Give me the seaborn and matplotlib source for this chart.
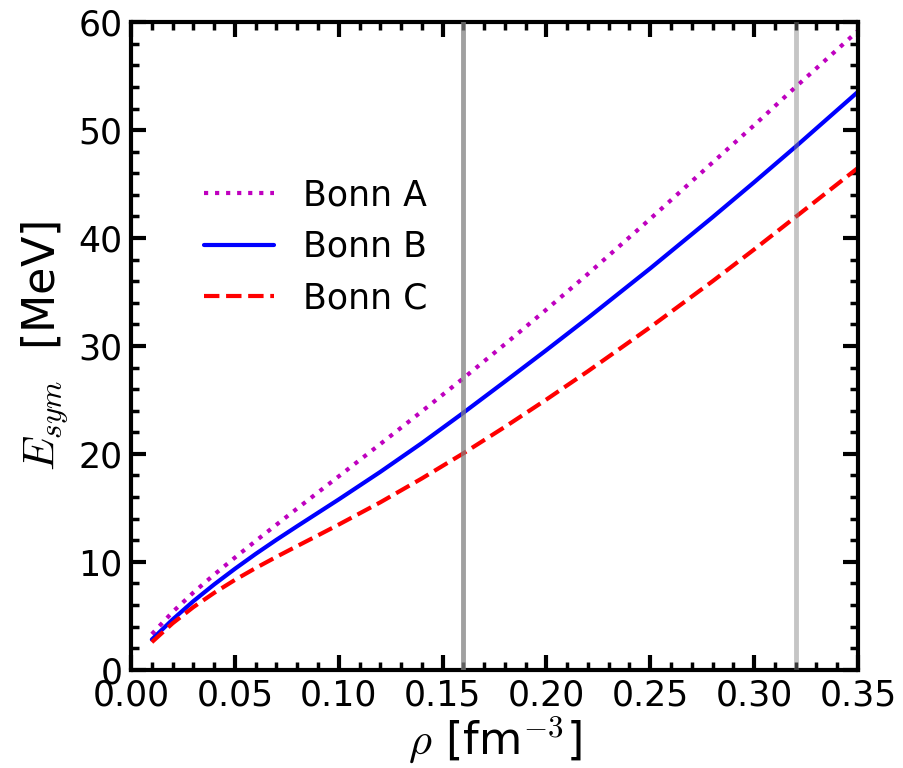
"""
Symmetry energy vs density for the Bonn A/B/C potentials.
"""

import matplotlib
matplotlib.use('Agg')
import matplotlib.pyplot as plt
import pandas as pd
import seaborn as sns
from matplotlib.ticker import MultipleLocator


# densities [fm^-3]
RHO = [0.01, 0.02, 0.03, 0.04, 0.05, 0.06, 0.07, 0.08, 0.09, 0.10, 0.12,
       0.14, 0.16, 0.18, 0.20, 0.22, 0.25, 0.28, 0.30, 0.32, 0.35]

# E_sym [MeV]
ESYM_BONN_A = [3.3, 5.35, 7.15, 8.81, 10.39, 11.93, 13.44, 14.94, 16.43, 17.92,
               20.91, 23.94, 27.01, 30.16, 33.38, 36.68, 41.78, 47.0, 50.45,
               54.0, 59.2]
ESYM_BONN_B = [2.8, 4.65, 6.35, 7.9, 9.35, 10.73, 12.04, 13.3, 14.54, 15.78,
               18.33, 21.0, 23.81, 26.7, 29.62, 32.6, 37.19, 41.93, 45.17,
               48.47, 53.55]
ESYM_BONN_C = [2.55, 4.3, 5.8, 7.12, 8.32, 9.42, 10.46, 11.46, 12.45, 13.45,
               15.51, 17.72, 20.05, 22.5, 25.04, 27.66, 31.74, 36.0, 38.94,
               41.96, 46.5]

SERIES = ['Bonn A', 'Bonn B', 'Bonn C']
COLORS = {'Bonn A': 'm', 'Bonn B': 'b', 'Bonn C': 'r'}
STYLES = {'Bonn A': ':', 'Bonn B': '-', 'Bonn C': '--'}

# saturation density and twice saturation
VLINES = [0.16, 0.32]
VLINE_ALPHA = [0.75, 0.45]


def build_frame():
    frames = []
    for name, vals in zip(SERIES, [ESYM_BONN_A, ESYM_BONN_B, ESYM_BONN_C]):
        frames.append(pd.DataFrame({'rho': RHO, 'esym': vals, 'model': name}))
    return pd.concat(frames, ignore_index=True)


def main():
    sns.set_style('white')
    plt.rcParams['font.family'] = ['DejaVu Sans']
    plt.rcParams['mathtext.fontset'] = 'cm'
    for key in ['text.color', 'axes.labelcolor', 'xtick.color', 'ytick.color']:
        plt.rcParams[key] = 'black'

    df = build_frame()

    fig = plt.figure(figsize=(9.04, 7.68), dpi=100)
    ax = fig.add_axes([0.145, 0.128, 0.804, 0.843])

    for name in SERIES:
        sub = df[df['model'] == name]
        sns.lineplot(
            data=sub, x='rho', y='esym', ax=ax, label=name,
            color=COLORS[name], linestyle=STYLES[name], linewidth=3,
        )

    for xv, a in zip(VLINES, VLINE_ALPHA):
        ax.axvline(xv, color='gray', alpha=a, linewidth=3.5, zorder=5)

    ax.set_xlim(0, 0.35)
    ax.set_ylim(0, 60)
    ax.xaxis.set_major_locator(MultipleLocator(0.05))
    ax.xaxis.set_minor_locator(MultipleLocator(0.01))
    ax.yaxis.set_major_locator(MultipleLocator(10))
    ax.yaxis.set_minor_locator(MultipleLocator(2))
    ax.xaxis.set_major_formatter(plt.FormatStrFormatter('%.2f'))

    ax.tick_params(which='both', direction='in', top=True, right=True,
                   bottom=True, left=True, labelsize=25, pad=6)
    ax.tick_params(which='major', length=11, width=3)
    ax.tick_params(which='minor', length=6, width=2.5)
    for sp in ax.spines.values():
        sp.set_linewidth(3)
        sp.set_color('k')

    ax.set_xlabel(r'$\rho$ [fm$^{-3}$]', fontsize=32, labelpad=2)
    ax.set_ylabel(r'$E_{sym}$  [MeV]', fontsize=32, labelpad=6)

    ax.legend(loc='center left', bbox_to_anchor=(0.058, 0.653), frameon=False,
              fontsize=25, handlelength=2.0, handletextpad=0.85,
              labelspacing=0.5)

    fig.savefig('out.png', dpi=100)
    plt.close(fig)


if __name__ == '__main__':
    main()
